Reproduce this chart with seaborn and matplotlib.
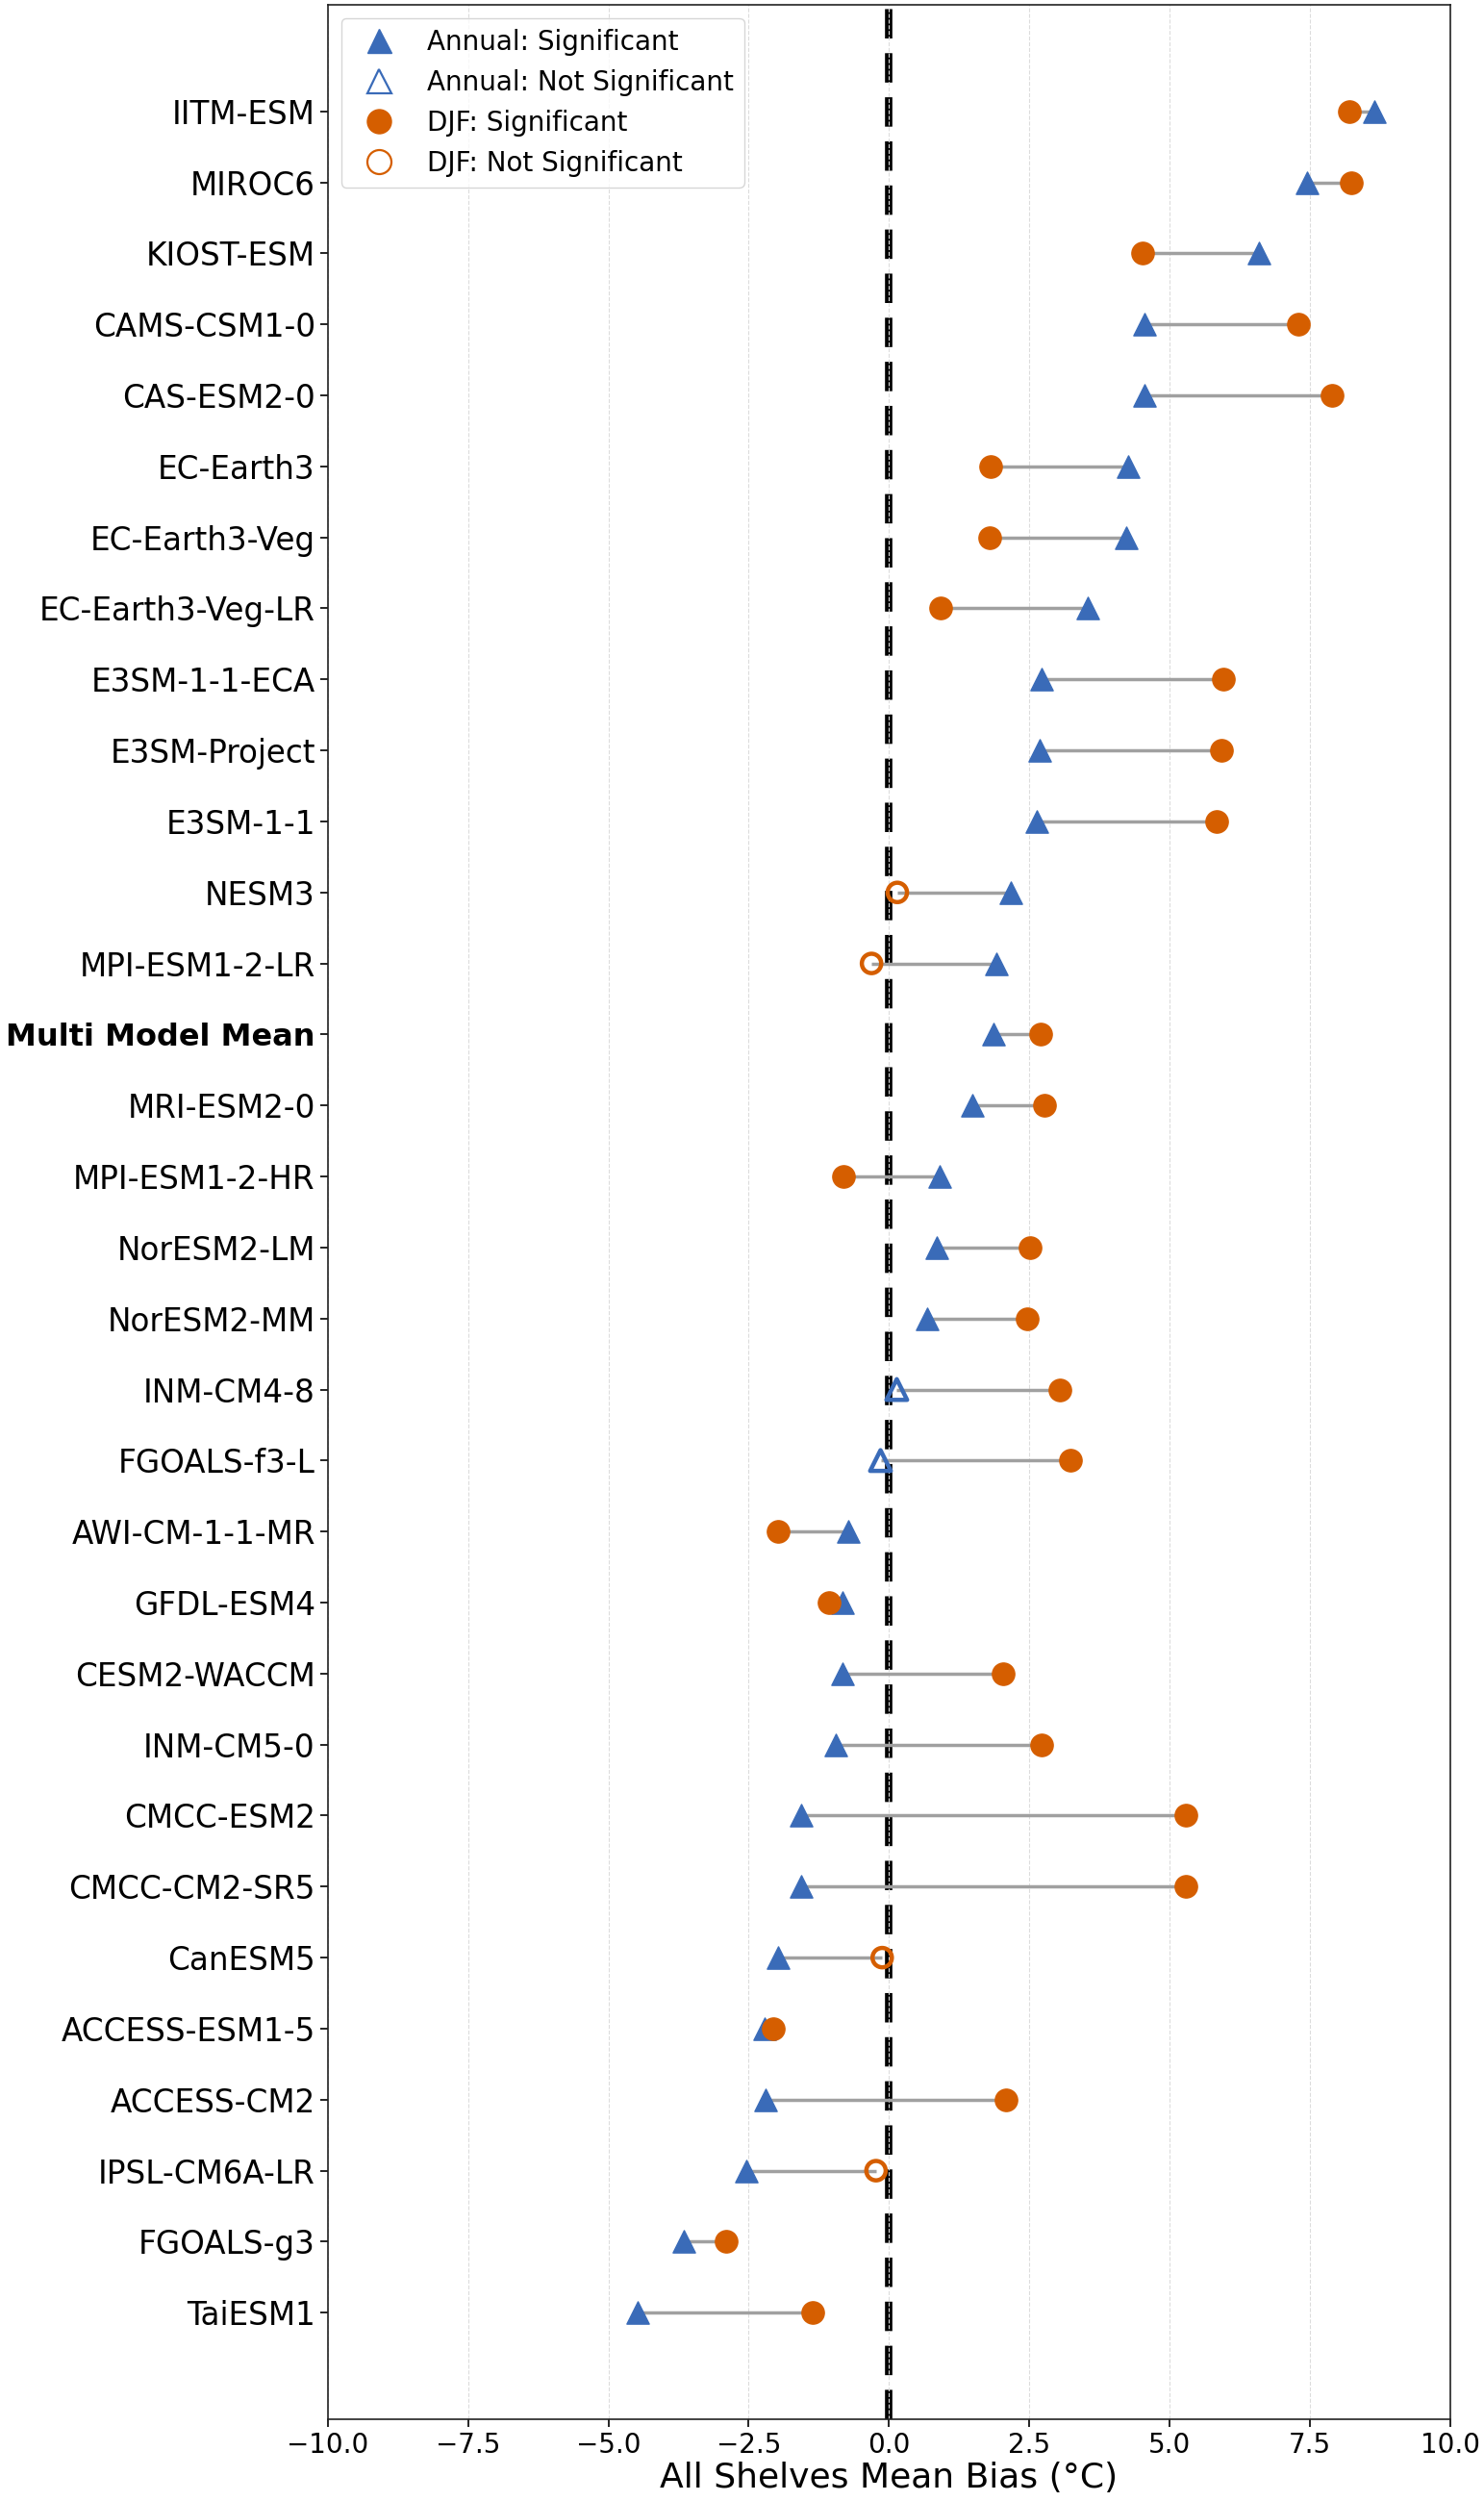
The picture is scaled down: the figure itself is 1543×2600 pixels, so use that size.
import matplotlib
matplotlib.use("Agg")
import matplotlib.pyplot as plt
from matplotlib.lines import Line2D
import seaborn as sns
import pandas as pd
import numpy as np

# ---- data (top to bottom) ----
models = ["IITM-ESM", "MIROC6", "KIOST-ESM", "CAMS-CSM1-0", "CAS-ESM2-0",
          "EC-Earth3", "EC-Earth3-Veg", "EC-Earth3-Veg-LR", "E3SM-1-1-ECA",
          "E3SM-Project", "E3SM-1-1", "NESM3", "MPI-ESM1-2-LR",
          "Multi Model Mean", "MRI-ESM2-0", "MPI-ESM1-2-HR", "NorESM2-LM",
          "NorESM2-MM", "INM-CM4-8", "FGOALS-f3-L", "AWI-CM-1-1-MR",
          "GFDL-ESM4", "CESM2-WACCM", "INM-CM5-0", "CMCC-ESM2",
          "CMCC-CM2-SR5", "CanESM5", "ACCESS-ESM1-5", "ACCESS-CM2",
          "IPSL-CM6A-LR", "FGOALS-g3", "TaiESM1"]
annual_bias = [8.66, 7.45, 6.60, 4.55, 4.55, 4.27, 4.23, 3.54, 2.72, 2.69,
               2.63, 2.17, 1.91, 1.87, 1.49, 0.91, 0.85, 0.68, 0.14, -0.15,
               -0.72, -0.83, -0.83, -0.95, -1.57, -1.57, -1.97, -2.22,
               -2.20, -2.55, -3.65, -4.48]
annual_sig = [True, True, True, True, True, True, True, True, True, True,
              True, True, True, True, True, True, True, True, False, False,
              True, True, True, True, True, True, True, True, True, True,
              True, True]
djf_bias = [8.21, 8.25, 4.52, 7.30, 7.90, 1.82, 1.79, 0.92, 5.96, 5.93,
            5.85, 0.15, -0.31, 2.70, 2.77, -0.81, 2.52, 2.46, 3.04, 3.24,
            -1.97, -1.07, 2.04, 2.72, 5.30, 5.30, -0.12, -2.07, 2.09,
            -0.23, -2.90, -1.36]
djf_sig = [True, True, True, True, True, True, True, True, True, True,
           True, False, False, True, True, True, True, True, True, True,
           True, True, True, True, True, True, False, True, True, False,
           True, True]
xticks = [-10.0, -7.5, -5.0, -2.5, 0.0, 2.5, 5.0, 7.5, 10.0]

BLUE = "#3A6BB8"
ORANGE = "#D55E00"

n = len(models)
df = pd.DataFrame({
    "model": models,
    "annual": annual_bias,
    "annual_sig": annual_sig,
    "djf": djf_bias,
    "djf_sig": djf_sig,
})
df["y"] = np.arange(n)[::-1]

fig = plt.figure(figsize=(15.43, 26), dpi=100)
ax = fig.add_axes([0.221, 0.0327, 0.756, 0.9654])

# connecting lines
ax.hlines(df["y"], df[["annual", "djf"]].min(axis=1), df[["annual", "djf"]].max(axis=1),
          color="#a0a0a0", lw=2.5, zorder=1)

# zero line
ax.axvline(0, color="black", lw=5.5, dashes=(4, 2), zorder=0.4)

ms = 280
a_s = df[df["annual_sig"]]
a_n = df[~df["annual_sig"]]
d_s = df[df["djf_sig"]]
d_n = df[~df["djf_sig"]]

sns.scatterplot(data=a_s, x="annual", y="y", marker="^", s=ms, color=BLUE,
                edgecolor=BLUE, linewidth=1, ax=ax, zorder=3, legend=False)
sns.scatterplot(data=a_n, x="annual", y="y", marker="^", s=240, facecolor="none",
                edgecolor=BLUE, linewidth=3.2, ax=ax, zorder=3, legend=False)
sns.scatterplot(data=d_s, x="djf", y="y", marker="o", s=ms, color=ORANGE,
                edgecolor=ORANGE, linewidth=1, ax=ax, zorder=4, legend=False)
sns.scatterplot(data=d_n, x="djf", y="y", marker="o", s=210, facecolor="none",
                edgecolor=ORANGE, linewidth=3.2, ax=ax, zorder=4, legend=False)

ax.set_xlim(-10, 10)
ax.set_ylim(-1.5, n + 0.5)
ax.set_xticks(xticks)
ax.set_yticks(df["y"])
ax.set_yticklabels(df["model"], fontsize=23.5)
for lab in ax.get_yticklabels():
    if lab.get_text() == "Multi Model Mean":
        lab.set_fontweight("bold")
        lab.set_fontsize(23)
ax.tick_params(axis="x", labelsize=20, length=6, width=1.2)
ax.tick_params(axis="y", length=6, width=1.2)
ax.set_xlabel("All Shelves Mean Bias (°C)", fontsize=26, labelpad=2)
ax.set_ylabel("")

ax.set_axisbelow(True)
ax.grid(axis="x", linestyle="--", color="#dcdcdc", lw=0.8)
ax.grid(axis="y", visible=False)
for sp in ax.spines.values():
    sp.set_linewidth(1.2)
    sp.set_color("#222222")

handles = [
    Line2D([], [], ls="none", marker="^", color=BLUE, markersize=18, label="Annual: Significant"),
    Line2D([], [], ls="none", marker="^", markerfacecolor="none", markeredgecolor=BLUE,
           markeredgewidth=1.6, markersize=18, label="Annual: Not Significant"),
    Line2D([], [], ls="none", marker="o", color=ORANGE, markersize=18, label="DJF: Significant"),
    Line2D([], [], ls="none", marker="o", markerfacecolor="none", markeredgecolor=ORANGE,
           markeredgewidth=1.6, markersize=18, label="DJF: Not Significant"),
]
ax.legend(handles=handles, loc="upper left", fontsize=20, frameon=True)

fig.savefig("out.png", dpi=100)
